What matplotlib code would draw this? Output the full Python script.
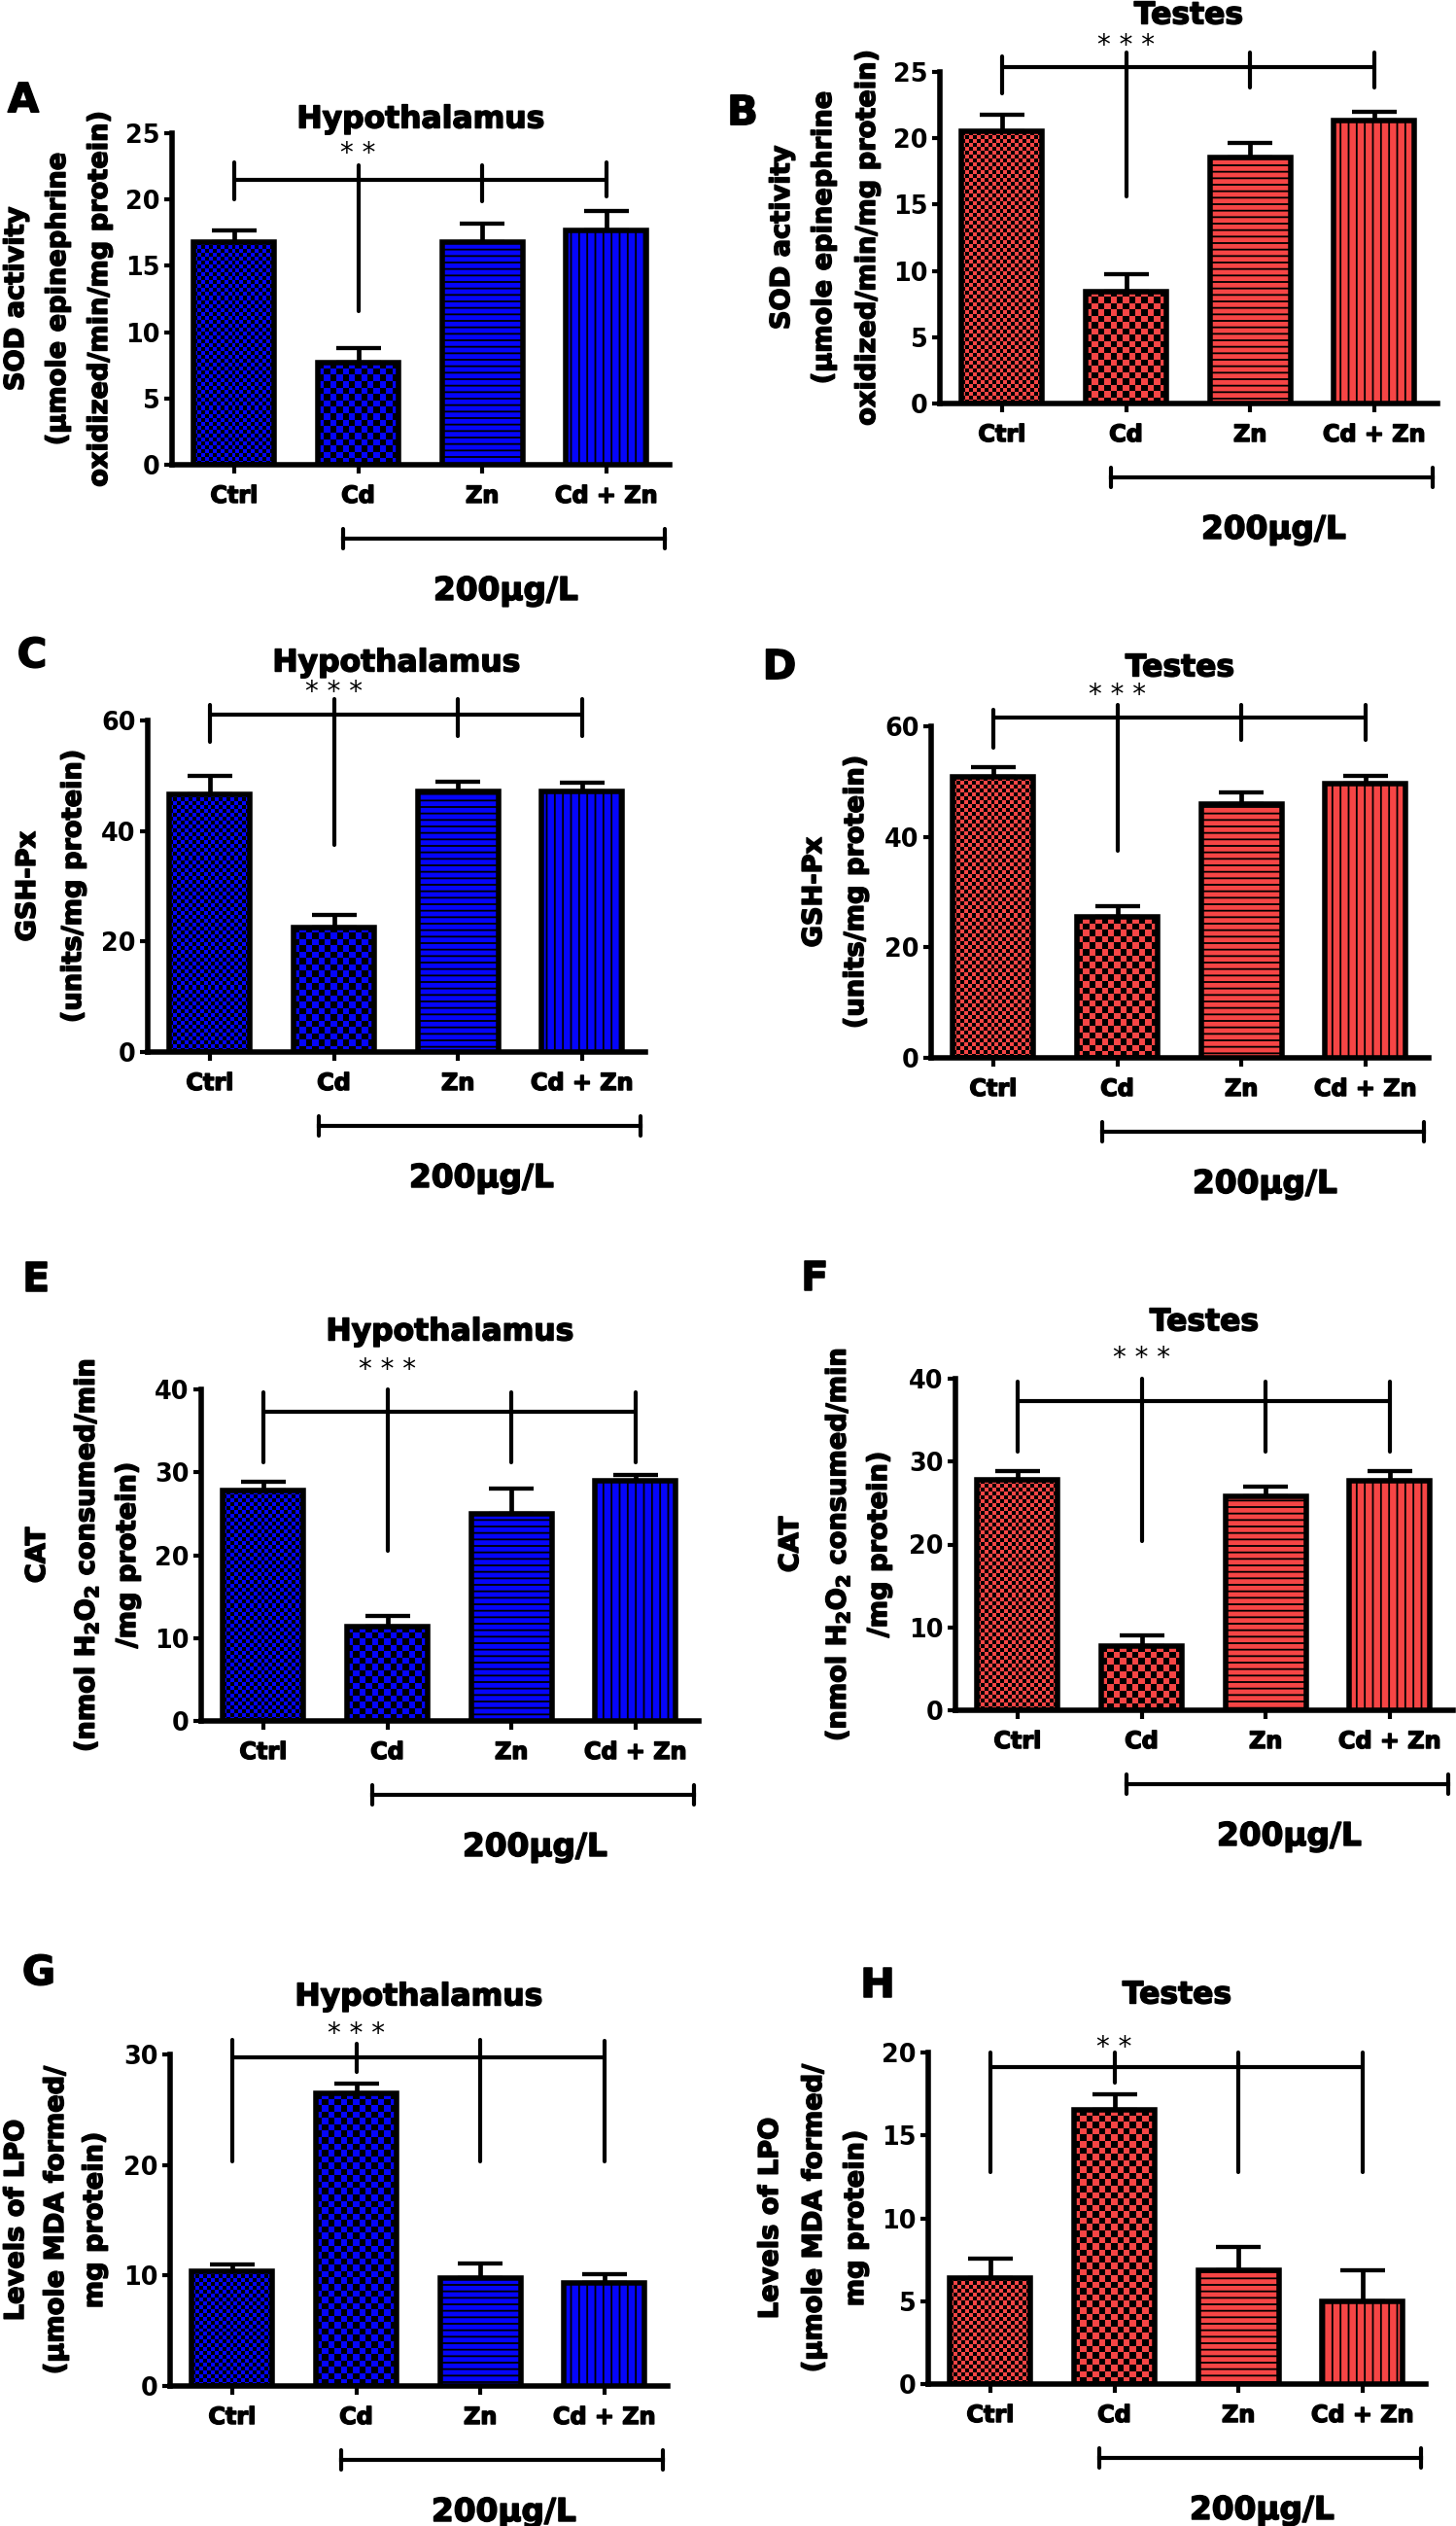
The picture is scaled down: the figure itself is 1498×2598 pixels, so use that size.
import numpy as np
import matplotlib
matplotlib.use("Agg")
import matplotlib.pyplot as plt
from matplotlib import transforms, patheffects
from matplotlib.colors import to_rgb
from matplotlib.text import Text

plt.rcParams['font.family'] = ['DejaVu Sans']
plt.rcParams['font.weight'] = 'bold'
plt.rcParams['mathtext.fontset'] = 'dejavusans'
plt.rcParams['mathtext.default'] = 'bf'
plt.rcParams['hatch.linewidth'] = 0.65

# ---- data ----
categories = ["Ctrl", "Cd", "Zn", "Cd + Zn"]

sod_hyp = [16.8, 7.7, 16.8, 17.7]
sod_hyp_err = [0.9, 1.1, 1.4, 1.4]
sod_tes = [20.5, 8.45, 18.55, 21.35]
sod_tes_err = [1.25, 1.3, 1.1, 0.65]

gsh_hyp = [46.7, 22.6, 47.2, 47.2]
gsh_hyp_err = [3.3, 2.2, 1.8, 1.6]
gsh_tes = [50.8, 25.5, 46.0, 49.7]
gsh_tes_err = [1.8, 2.0, 2.0, 1.4]

cat_hyp = [27.8, 11.4, 25.0, 29.0]
cat_hyp_err = [1.1, 1.3, 3.0, 0.7]
cat_tes = [27.8, 7.8, 25.8, 27.7]
cat_tes_err = [1.1, 1.2, 1.2, 1.2]

lpo_hyp = [10.4, 26.5, 9.8, 9.3]
lpo_hyp_err = [0.6, 0.9, 1.3, 0.8]
lpo_tes = [6.4, 16.55, 6.85, 5.0]
lpo_tes_err = [1.15, 0.9, 1.4, 1.85]

# significance brackets: level, lower / upper end of each drop line, star height, label
sod_hyp_sig = (21.5, [20.0, 11.6, 19.9, 20.2], [22.8, 22.6, 22.6, 22.8], 24.1, "* *")
sod_tes_sig = (25.4, [23.4, 15.6, 23.8, 23.8], [26.2, 26.5, 26.5, 26.5], 27.6, "* * *")
gsh_hyp_sig = (61.1, [56.2, 37.4, 57.2, 57.2], [62.9, 63.8, 63.8, 63.8], 66.5, "* * *")
gsh_tes_sig = (61.5, [56.1, 37.4, 57.5, 57.5], [63.0, 63.8, 63.8, 63.8], 67.1, "* * *")
cat_hyp_sig = (37.3, [31.2, 20.5, 31.2, 31.2], [39.6, 40.0, 39.6, 39.6], 43.3, "* * *")
cat_tes_sig = (37.3, [31.2, 20.4, 31.2, 31.2], [39.6, 40.0, 39.6, 39.6], 43.5, "* * *")
lpo_hyp_sig = (29.7, [20.35, 28.4, 20.35, 20.3], [31.3, 31.0, 31.3, 31.2], 32.6, "* * *")
lpo_tes_sig = (19.1, [12.8, 18.2, 12.8, 12.8], [20.0, 20.0, 20.0, 20.0], 20.8, "* *")

sod_label = ["SOD activity", "(\u03bcmole epinephrine", "oxidized/min/mg protein)"]
gsh_label = ["GSH-Px", "(units/mg protein)"]
cat_label = ["CAT", r"(nmol H$_2$O$_2$ consumed/min", "/mg protein)"]
lpo_label = ["Levels of LPO", "(\u03bcmole MDA formed/", "mg protein)"]

dose_text = "200\u03bcg/L"

BLUE = "#0505FA"
RED = "#F64545"

panels = [
    # letter, title, values, errors, colour, y max, y step, y label, significance
    ("A", "Hypothalamus", sod_hyp, sod_hyp_err, BLUE, 25, 5, sod_label, sod_hyp_sig),
    ("B", "Testes", sod_tes, sod_tes_err, RED, 25, 5, sod_label, sod_tes_sig),
    ("C", "Hypothalamus", gsh_hyp, gsh_hyp_err, BLUE, 60, 20, gsh_label, gsh_hyp_sig),
    ("D", "Testes", gsh_tes, gsh_tes_err, RED, 60, 20, gsh_label, gsh_tes_sig),
    ("E", "Hypothalamus", cat_hyp, cat_hyp_err, BLUE, 40, 10, cat_label, cat_hyp_sig),
    ("F", "Testes", cat_tes, cat_tes_err, RED, 40, 10, cat_label, cat_tes_sig),
    ("G", "Hypothalamus", lpo_hyp, lpo_hyp_err, BLUE, 30, 10, lpo_label, lpo_hyp_sig),
    ("H", "Testes", lpo_tes, lpo_tes_err, RED, 20, 5, lpo_label, lpo_tes_sig),
]

# ---- layout (pixels of the 1498x2598 canvas) ----
W, H = 1498, 2598
DPI = 200
PX = DPI / 72.0          # pixels per point
AX_W, AX_H = 512, 341

# letter centre, axes left, y of zero line, title height above axes, y-label line offsets
layout = {
    "A": ((24, 100), 177, 478, 17, [-160, -117, -74]),
    "B": ((764, 113), 967, 415, 61, [-162, -119, -74]),
    "C": ((33, 671), 152, 1082, 62, [-123, -76]),
    "D": ((802, 683), 958, 1088, 63, [-120, -77]),
    "E": ((37, 1313), 207, 1770, 62, [-168, -118, -75]),
    "F": ((838, 1312), 983, 1759, 61, [-169, -121, -78]),
    "G": ((40, 2026), 175, 2454, 62, [-158, -117, -77]),
    "H": ((903, 2039), 955, 2452, 62, [-162, -117, -74]),
}

BAR_W = 0.65
TITLE_FS = 11.3
DOSE_FS = 11.8
LETTER_FS = 15
YLAB_FS = 9.8
STAR_FS = 10


def add_checker(ax, bar, color, cell_px):
    x0, y0 = bar.get_x(), bar.get_y()
    w, h = bar.get_width(), bar.get_height()
    (px0, py0), (px1, py1) = ax.transData.transform([(x0, y0), (x0 + w, y0 + h)])
    nx = max(1, int(round(abs(px1 - px0) / cell_px)))
    ny = max(1, int(round(abs(py1 - py0) / cell_px)))
    ii, jj = np.indices((ny, nx))
    mask = ((ii + jj) % 2 == 0)[..., None]
    img = np.where(mask, np.array(to_rgb(color)), 0.0)
    im = ax.imshow(img, extent=(x0, x0 + w, y0, y0 + h), origin="lower",
                   aspect="auto", interpolation="nearest", zorder=2.5)
    im.set_clip_path(bar)


fig = plt.figure(figsize=(W / DPI, H / DPI), dpi=DPI)
star_texts = []

for letter, title, vals, errs, color, ymax, ystep, ylabel, sig in panels:
    (lx, ly), left, zero_y, title_off, ylab_off = layout[letter]
    ax = fig.add_axes([left / W, (H - zero_y) / H, AX_W / W, AX_H / H])
    x = np.arange(len(categories))
    ax.set_xlim(-0.5, 3.51)
    ax.set_ylim(0, ymax)

    bars = ax.bar(x, vals, width=BAR_W, color=color, edgecolor="black",
                  linewidth=2.0, zorder=3)
    bars[2].set_hatch("-----")
    bars[3].set_hatch("||||")
    for i, cell in [(0, 4.0), (1, 6.5)]:
        bars[i].set_facecolor("none")
        add_checker(ax, bars[i], color, cell)
    ax.errorbar(x, vals, yerr=[np.zeros(len(vals)), errs], fmt="none",
                ecolor="black", elinewidth=1.7, capsize=8.4, capthick=1.55, zorder=2)
    ax.set_xlim(-0.5, 3.51)
    ax.set_ylim(0, ymax)

    # axes styling
    for s in ["top", "right"]:
        ax.spines[s].set_visible(False)
    for s in ["left", "bottom"]:
        ax.spines[s].set_linewidth(2.0)
    ax.set_yticks(np.arange(0, ymax + 0.1, ystep))
    ax.set_xticks(x)
    ax.set_xticklabels(categories)
    ax.tick_params(axis="y", length=2.9, width=1.5, pad=1.5, labelsize=9.2)
    ax.tick_params(axis="x", length=3.2, width=1.5, pad=4.0, labelsize=8.6)

    # significance bracket
    level, lo, hi, star_y, stars = sig
    ax.plot([0, 3], [level, level], color="black", lw=1.5, clip_on=False,
            solid_capstyle="butt", zorder=4)
    for i in range(len(categories)):
        ax.plot([i, i], [lo[i], hi[i]], color="black", lw=1.5, clip_on=False,
                solid_capstyle="round", zorder=4)
    st = ax.annotate(stars, (1, star_y), xytext=(0, -0.59 * STAR_FS),
                     textcoords="offset points", ha="center", va="baseline",
                     fontsize=STAR_FS, fontweight="normal", annotation_clip=False)
    star_texts.append(st)

    # dose bracket under the x axis
    bt = transforms.blended_transform_factory(ax.transData, ax.transAxes)
    yb = -76 / AX_H
    cap = 10 / AX_H
    ax.plot([0.88, 3.47], [yb, yb], color="black", lw=1.5, transform=bt, clip_on=False)
    for xe in (0.88, 3.47):
        ax.plot([xe, xe], [yb - cap, yb + cap], color="black", lw=1.5,
                transform=bt, clip_on=False, solid_capstyle="round")
    em = DOSE_FS * PX
    ax.text(2.19, -(127 + 0.365 * em) / AX_H, dose_text, transform=bt,
            ha="center", va="baseline", fontsize=DOSE_FS)

    # title
    em = TITLE_FS * PX
    ax.text(0.5, 1 + (title_off - 0.365 * em) / AX_H, title, transform=ax.transAxes,
            ha="center", va="baseline", fontsize=TITLE_FS)

    # panel letter
    em = LETTER_FS * PX
    fig.text(lx / W, 1 - (ly + 0.365 * em) / H, letter, ha="center", va="baseline",
             fontsize=LETTER_FS)

    # multi-line y label
    yc = zero_y - AX_H / 2
    for line, off in zip(ylabel, ylab_off):
        fig.text((left + off) / W, 1 - yc / H, line, rotation=90,
                 ha="center", va="center", fontsize=YLAB_FS)

# heavier lettering, close to the black sans of the original
heavy = [patheffects.withStroke(linewidth=0.55, foreground="black")]
for t in fig.findobj(Text):
    if t not in star_texts and t.get_text():
        t.set_path_effects(heavy)

fig.savefig("out.png", dpi=DPI)
